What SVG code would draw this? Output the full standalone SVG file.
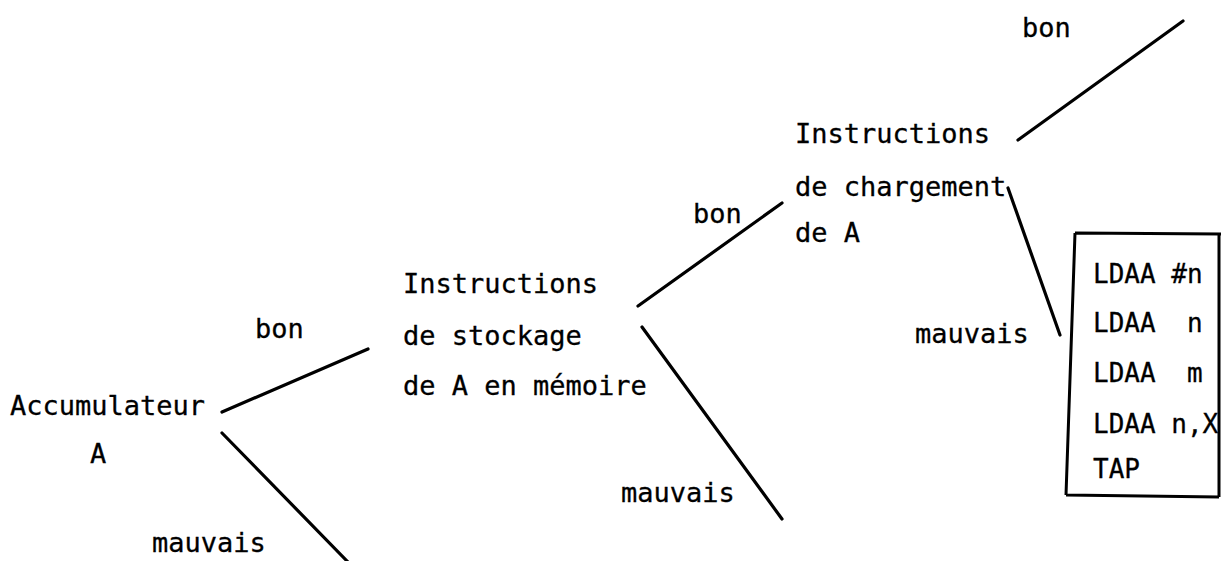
<svg xmlns="http://www.w3.org/2000/svg" width="1221" height="561" viewBox="0 0 1221 561">
<style>
text{font-family:"DejaVu Sans Mono","Liberation Mono",monospace;font-size:27px;fill:#000;stroke:#000;stroke-width:0.3}
.box{font-size:26px}
.c line{stroke:#000;stroke-width:3.2;stroke-linecap:round}
</style>
<rect width="1221" height="561" fill="#fff"/>
<g id="accumulateur">
<text x="10" y="415">Accumulateur</text>
<text x="90" y="463">A</text>
</g>
<g id="stockage">
<text x="403" y="293">Instructions</text>
<text x="403" y="345">de stockage</text>
<text x="403" y="395">de A en mémoire</text>
</g>
<g id="chargement">
<text x="795" y="143">Instructions</text>
<text x="795" y="196">de chargement</text>
<text x="795" y="242">de A</text>
</g>
<g id="liste">
<path d="M1075,233 L1221,234 M1219,234 L1219,497 M1066,495 L1219,497 M1075,233 L1066,495" fill="none" stroke="#000" stroke-width="3"/>
<text class="box" x="1093" y="283" xml:space="preserve">LDAA #n</text>
<text class="box" x="1093" y="332" xml:space="preserve">LDAA  n</text>
<text class="box" x="1093" y="382" xml:space="preserve">LDAA  m</text>
<text class="box" x="1093" y="433" xml:space="preserve">LDAA n,X</text>
<text class="box" x="1093" y="478">TAP</text>
</g>
<g id="connectors" class="c">
<line x1="222" y1="412" x2="368" y2="349"/>
<line x1="222" y1="433" x2="348" y2="562"/>
<line x1="638" y1="306" x2="782" y2="203"/>
<line x1="642" y1="327" x2="782" y2="519"/>
<line x1="1018" y1="140" x2="1183" y2="21"/>
<line x1="1008" y1="188" x2="1060" y2="335"/>
</g>
<g id="labels">
<text x="255" y="338">bon</text>
<text x="152" y="552">mauvais</text>
<text x="693" y="223">bon</text>
<text x="621" y="502">mauvais</text>
<text x="1022" y="37">bon</text>
<text x="915" y="343">mauvais</text>
</g>
</svg>
